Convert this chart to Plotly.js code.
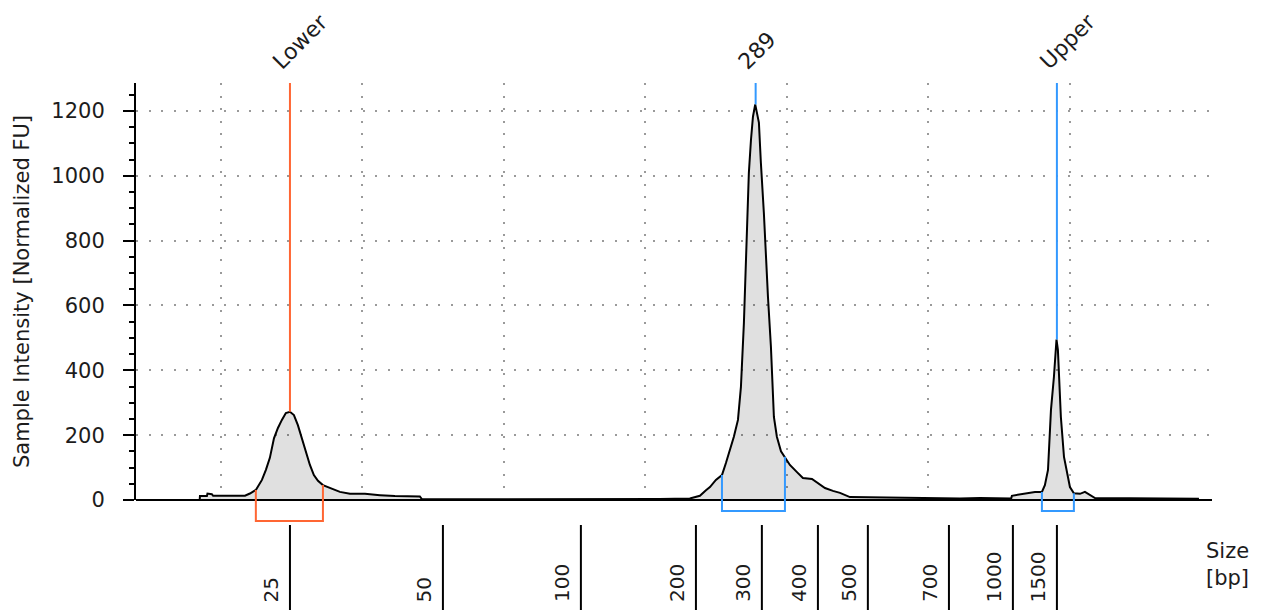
<!DOCTYPE html>
<html><head><meta charset="utf-8">
<script src="https://cdn.plot.ly/plotly-3.0.1.min.js"></script>
<style>html,body{margin:0;padding:0;background:#fff}#chart{width:1267px;height:610px}</style>
</head><body><div id="chart"></div>
<script>
// Electropherogram trace (migration time in s, intensity in FU)
const timeSec = [18.50,18.52,19.01,19.05,19.36,19.45,21.70,22.05,22.47,22.90,23.18,23.46,23.75,24.03,24.31,24.59,24.88,25.16,25.44,25.72,26.01,26.29,26.57,26.86,27.21,27.70,28.41,29.12,30.18,31.24,32.30,34.06,34.20,39.72,46.78,51.02,53.14,53.85,54.28,54.56,54.98,55.41,55.69,55.97,56.25,56.54,56.75,56.96,57.17,57.31,57.46,57.60,57.76,57.88,58.02,58.16,58.37,58.66,58.87,59.08,59.29,59.58,59.86,60.21,60.71,61.13,61.77,62.19,62.69,63.25,63.75,64.45,65.87,68.34,70.11,72.23,73.64,75.85,75.90,77.03,77.53,78.02,78.23,78.45,78.66,78.87,79.05,79.15,79.36,79.58,79.79,80.00,80.28,80.71,81.06,81.41,81.77,89.05,89.06];
const intensityFU = [0,12,12,20,18,13,13,20,31,62,93,130,190,222,247,268,272,262,231,192,148,108,77,59,46,37,25,19,19,15,12,11,3,2,2,3,5,13,30,40,62,77,114,154,195,247,349,546,812,1009,1111,1182,1220,1194,1164,1040,886,627,472,256,195,150,133,108,86,68,65,52,37,28,22,9,8,6,5,5,6,5,13,21,25,25,46,93,278,380,495,463,256,133,83,40,21,19,25,15,6,4,0];

// Called peaks
const peakNames = ['Lower','289','Upper'];
const peakTimes = [24.88, 57.79, 79.08];
const peakHeights = [272, 1220, 495];

// Integration brackets
const bracketStart = [22.47, 55.41, 78.02];
const bracketEnd = [27.21, 59.86, 80.28];
const bracketStartFU = [31, 77, 25];
const bracketEndFU = [46, 133, 21];

// Ladder size scale
const sizeLabels = ['25','50','100','200','300','400','500','700','1000','1500'];
const sizeTimes = [24.88, 35.69, 45.44, 53.57, 58.23, 62.19, 65.72, 71.45, 75.97, 79.08];

// ---- styling / layout ----
const W = 1267, H = 610;
const M = {l:136, r:55, t:83, b:110};
const plotH = H - M.t - M.b;
const YMAX = 1286;
const XRANGE = [14, 90.04];
const peakColors = ['#ff6633','#3399ff','#3399ff'];
const bracketDepthPx = [21, 11, 11];
const FONT = 'DejaVu Sans';
const TXT = '#1c1c1c';
const GRID = {showgrid:true, gridcolor:'#9a9a9a', gridwidth:2, griddash:'2px,10.6px'};

const shapes = [];
const annotations = [];

peakNames.forEach((n,i) => {
  shapes.push({type:'line', xref:'x', yref:'y', x0:peakTimes[i], x1:peakTimes[i], y0:peakHeights[i], y1:YMAX,
    line:{color:peakColors[i], width:2}, layer:'above'});
  const yb = -bracketDepthPx[i]/plotH;
  const p = `M ${bracketStart[i]},${bracketStartFU[i]/YMAX} L ${bracketStart[i]},${yb} L ${bracketEnd[i]},${yb} L ${bracketEnd[i]},${bracketEndFU[i]/YMAX}`;
  shapes.push({type:'path', xref:'x', yref:'paper', path:p, line:{color:peakColors[i], width:2}, layer:'above'});
  annotations.push({text:n, xref:'x', yref:'paper', x:peakTimes[i], y:1+6/plotH, xanchor:'left', yanchor:'bottom',
    xshift:-25, textangle:-45, showarrow:false, font:{family:FONT, size:22, color:TXT}});
});

sizeLabels.forEach((s,i) => {
  shapes.push({type:'line', xref:'x', yref:'paper', x0:sizeTimes[i], x1:sizeTimes[i], y0:-25/plotH, y1:-115/plotH,
    line:{color:'#000', width:2}});
  annotations.push({text:s, xref:'x', yref:'paper', x:sizeTimes[i], y:-104/plotH, xanchor:'right', yanchor:'bottom',
    xshift:-5, textangle:-90, showarrow:false, font:{family:FONT, size:20, color:TXT}});
});

annotations.push({text:'Size<br>[bp]', xref:'paper', yref:'paper', x:(1204-M.l)/(W-M.l-M.r), y:-64/plotH,
  xanchor:'left', yanchor:'middle', align:'left', showarrow:false, font:{family:FONT, size:21, color:TXT}});

const trace = {x:timeSec, y:intensityFU, type:'scatter', mode:'lines',
  line:{color:'#000', width:2}, fill:'tozeroy', fillcolor:'rgba(0,0,0,0.12)', hoverinfo:'skip'};

const layout = {
  width:W, height:H, margin:M, showlegend:false,
  paper_bgcolor:'#fff', plot_bgcolor:'#fff',
  font:{family:FONT, color:TXT},
  xaxis:Object.assign({range:XRANGE, tickmode:'linear', tick0:20, dtick:10, showticklabels:false, ticks:'',
    zeroline:false, showline:false, fixedrange:true}, GRID),
  yaxis:Object.assign({range:[0,YMAX], tickmode:'linear', tick0:0, dtick:200, ticks:'outside', ticklen:11, tickwidth:2,
    tickcolor:'#000', showline:true, linecolor:'#000', linewidth:2, zeroline:true, zerolinecolor:'#000', zerolinewidth:2,
    tickfont:{family:FONT, size:21, color:TXT}, ticklabelstandoff:14, automargin:false, layer:'above traces',
    minor:{tickmode:'linear', tick0:0, dtick:50, ticks:'outside', ticklen:5, tickwidth:2, tickcolor:'#000', showgrid:false},
    title:{text:'Sample Intensity [Normalized FU]', font:{family:FONT, size:21, color:TXT}, standoff:16},
    fixedrange:true}, GRID),
  shapes:shapes, annotations:annotations
};

Plotly.newPlot('chart', [trace], layout, {staticPlot:true, displayModeBar:false});
</script>
</body></html>
